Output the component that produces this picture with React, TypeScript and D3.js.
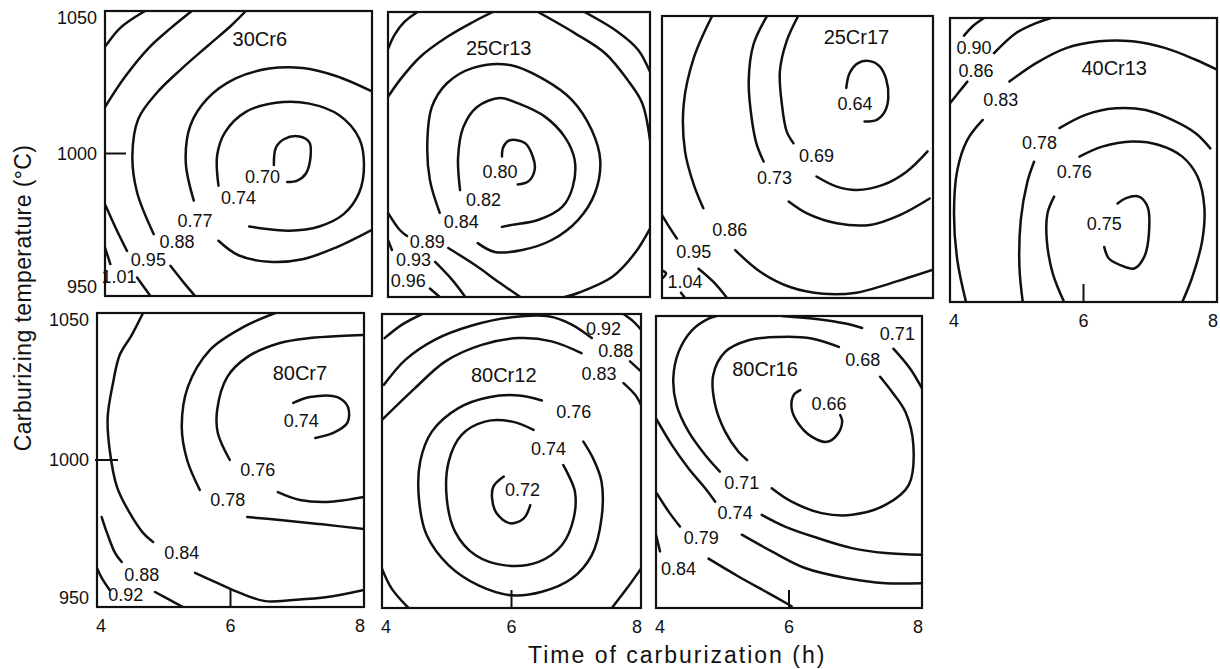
import React from 'react';
import * as d3 from 'd3';

type Pt = [number, number];
type Lines = Pt[][];
type Tag = [string, number, number];

const timeTicks = [4, 6, 8];
const tempTicks = [950, 1000, 1050];
const steels = ['30Cr6', '25Cr13', '25Cr17', '40Cr13', '80Cr7', '80Cr12', '80Cr16'];

// contour pieces, [time h, temperature C]
const lines30Cr6: Lines = [
  [[6.53, 996], [6.56, 1002], [6.68, 1005], [6.91, 1006], [7.06, 1004], [7.08, 999], [7.01, 993], [6.88, 990.5], [6.73, 990]],
  [[5.7, 988.7], [5.68, 999.3], [5.8, 1007.5], [6.11, 1014.6], [6.56, 1017.8], [7.06, 1017.5], [7.51, 1013.4], [7.81, 1005.2], [7.88, 995.8], [7.81, 986.4], [7.58, 978.8], [7.21, 974.4], [6.76, 972.9], [6.36, 973.7], [6.16, 974.4]],
  [[5.33, 983.5], [5.21, 996.9], [5.28, 1009.9], [5.53, 1019.2], [5.95, 1026.3], [6.46, 1029.8], [6.96, 1030], [7.46, 1027.2], [8, 1021.8]],
  [[5.7, 969.4], [6, 964.3], [6.46, 962], [6.96, 962.9], [7.46, 967], [8, 973.2]],
  [[4.73, 971.7], [4.48, 986.4], [4.41, 999.3], [4.5, 1012.2], [4.78, 1021.4], [5.15, 1029.8], [5.55, 1038], [5.9, 1045.1], [6.11, 1050]],
  [[4, 1016.3], [4.3, 1026.9], [4.65, 1036.9], [4.98, 1043.9], [5.3, 1050]],
  [[4.01, 981.7], [4.18, 972.9], [4.33, 965.8]],
  [[4.98, 960.6], [5.18, 954.7], [5.35, 950]],
  [[4, 1037.4], [4.23, 1044.1], [4.6, 1050]],
  [[4, 967], [4.08, 961.2]],
  [[4.48, 956.5], [4.68, 950]],
];
const labels30Cr6: Tag[] = [
  ['0.70', 6.36, 991.7], ['0.74', 6.0, 984.3], ['0.77', 5.35, 976.4],
  ['0.88', 5.08, 968.8], ['0.95', 4.65, 962.7], ['1.01', 4.21, 956.8],
];

const lines25Cr13: Lines = [
  [[5.74, 999.3], [5.76, 1002.6], [5.86, 1005], [6.09, 1004], [6.21, 999.3], [6.24, 994.7], [6.14, 990.5], [5.98, 989.5]],
  [[5.1, 987.5], [5.07, 999], [5.15, 1009.6], [5.36, 1016.7], [5.71, 1019.8], [5.98, 1018], [6.4, 1013.2], [6.7, 1006.1], [6.85, 998.1], [6.82, 988.6], [6.66, 981.6], [6.29, 977], [5.89, 975.3], [5.74, 974.6]],
  [[4.79, 979.5], [4.64, 991], [4.6, 1004], [4.67, 1016.7], [4.9, 1025], [5.3, 1030.4], [5.86, 1031.4], [6.4, 1026.1], [6.81, 1019.1], [7.11, 1008.6], [7.24, 998.1], [7.16, 986.5], [6.9, 977], [6.5, 970], [6.05, 966.5], [5.63, 965.8], [5.37, 968.9]],
  [[4, 1020.2], [4.18, 1026.1], [4.49, 1034.2], [4.9, 1041.2], [5.3, 1046.5], [5.6, 1050]],
  [[6.29, 1050], [6.85, 1042.6], [7.31, 1035.6], [7.66, 1026.1], [7.88, 1018.1], [8, 1005]],
  [[8, 974], [7.77, 965.4], [7.42, 957], [6.9, 951.4], [6.7, 950]],
  [[4, 979.5], [4.18, 973.5], [4.29, 971.4]],
  [[4.92, 967.2], [5.33, 961.2], [5.71, 954.9], [6.02, 950]],
  [[4, 1037], [4.1, 1042], [4.25, 1046.5], [4.45, 1050]],
  [[7, 1050], [7.51, 1043], [7.82, 1036.7], [8, 1029]],
  [[4, 970], [4.06, 966.5]],
  [[4.72, 962.3], [4.98, 956], [5.18, 950]],
  [[4.64, 953], [4.79, 950]],
];
const labels25Cr13: Tag[] = [
  ['0.80', 5.71, 994], ['0.82', 5.46, 984.2], ['0.84', 5.12, 976.4],
  ['0.89', 4.6, 969.3], ['0.93', 4.39, 962.9], ['0.96', 4.31, 955.6],
];

const lines25Cr17: Lines = [
  [[6.72, 1024.5], [6.77, 1029.8], [6.9, 1033.4], [7.07, 1034], [7.21, 1032.2], [7.31, 1027.5], [7.34, 1020.9], [7.29, 1016.2], [7.17, 1013.2], [6.99, 1012.6]],
  [[6.01, 1050], [5.84, 1041.1], [5.74, 1030.4], [5.77, 1018.6], [5.84, 1009.1], [5.94, 1004.9]],
  [[6.28, 993.1], [6.58, 989.5], [6.87, 988.3], [7.26, 990.1], [7.61, 994.8], [7.92, 1002]],
  [[5.55, 1050], [5.35, 1039.9], [5.28, 1026.9], [5.33, 1012.6], [5.4, 1004.3], [5.5, 998.4]],
  [[5.87, 984.2], [6.14, 980], [6.58, 976.5], [7.07, 975.9], [7.51, 979.4], [7.95, 985.3]],
  [[4.74, 1050], [4.47, 1035.2], [4.32, 1018.6], [4.34, 1002], [4.47, 990.1], [4.61, 981.8]],
  [[5.08, 967], [5.45, 959.3], [5.89, 953.9], [6.38, 951.5], [6.87, 951.9], [7.36, 955.1], [8, 960]],
  [[4, 979.4], [4.12, 974.7], [4.22, 971.1]],
  [[4.54, 960.4], [4.76, 955.7], [4.96, 950]],
  [[4, 959.8], [4.06, 958.7], [4.01, 957.1]],
  [[4.28, 951.9], [4.34, 950]],
];
const labels25Cr17: Tag[] = [
  ['0.64', 6.85, 1018.8], ['0.69', 6.28, 1000.5], ['0.73', 5.66, 992.5],
  ['0.86', 5.0, 974.2], ['0.95', 4.47, 966.3], ['1.04', 4.34, 955.5],
];

const lines40Cr13: Lines = [
  [[4.21, 1043.8], [4.34, 1047.1], [4.51, 1050]],
  [[4, 1020], [4.14, 1024.1], [4.26, 1027.6]],
  [[4.66, 1037.6], [4.99, 1044.7], [5.29, 1048.2], [5.51, 1050]],
  [[4.24, 950], [4.11, 964.7], [4.06, 981.2], [4.11, 996.5], [4.26, 1007.1], [4.49, 1014.1]],
  [[4.89, 1027.6], [5.29, 1034.1], [5.74, 1039.4], [6.23, 1041.8], [6.73, 1041.8], [7.23, 1039.4], [7.68, 1035.3], [8, 1031.8]],
  [[5.09, 950], [5.04, 962.4], [5.06, 978.8], [5.16, 992.4], [5.26, 999.4]],
  [[5.64, 1011.2], [6.03, 1015.9], [6.48, 1018.2], [6.93, 1017.6], [7.33, 1014.1], [7.68, 1009.4], [7.9, 1004.1]],
  [[5.71, 950], [5.54, 960], [5.45, 971.8], [5.46, 981.2], [5.56, 987.1]],
  [[5.94, 1001.2], [6.28, 1004.7], [6.73, 1006.5], [7.13, 1005.3], [7.48, 1001.2], [7.71, 994.1], [7.81, 983.5], [7.78, 971.8], [7.63, 958.8], [7.48, 950]],
  [[6.51, 984.7], [6.63, 986.5], [6.83, 987.1], [6.96, 983.5], [6.98, 974.1], [6.91, 965.9], [6.76, 961.8], [6.56, 962.9], [6.38, 965.3], [6.31, 969.4]],
];
const labels40Cr13: Tag[] = [
  ['0.90', 4.36, 1039.4], ['0.86', 4.39, 1031.5], ['0.83', 4.76, 1021.2],
  ['0.78', 5.34, 1005.9], ['0.76', 5.86, 995.9], ['0.75', 6.31, 977.6],
];

const lines80Cr7: Lines = [
  [[6.94, 1019.4], [7.19, 1021.4], [7.6, 1021.4], [7.76, 1018], [7.75, 1012.6], [7.54, 1009.2], [7.27, 1007.5]],
  [[5.99, 1000], [5.81, 1009.2], [5.8, 1017], [5.95, 1028.2], [6.25, 1035], [6.74, 1039.8], [7.19, 1041.5], [7.64, 1042.2], [8, 1042.5]],
  [[6.71, 989.1], [7.04, 986.4], [7.45, 985.7], [8, 987.4]],
  [[5.54, 989.8], [5.35, 1000], [5.27, 1011.2], [5.36, 1024.8], [5.69, 1037.4], [6.19, 1045.2], [6.67, 1050]],
  [[6.25, 980.6], [6.74, 979.6], [7.34, 978.2], [8, 976.5]],
  [[4.69, 1050], [4.52, 1042.5], [4.34, 1035.7], [4.24, 1026.2], [4.16, 1014.6], [4.19, 1003.4], [4.3, 990.8], [4.49, 982], [4.69, 975.2], [4.84, 972.1]],
  [[5.47, 961.6], [5.8, 958.2], [6.14, 954.8], [6.52, 952], [6.94, 952.4], [7.45, 953.4], [8, 955.8]],
  [[4.07, 980.6], [4.15, 975.2], [4.27, 968.4], [4.37, 965.3]],
  [[4.87, 955.1], [5.09, 952.4], [5.29, 950]],
  [[4, 963.3], [4.07, 959.9], [4.19, 955.8]],
];
const labels80Cr7: Tag[] = [
  ['0.74', 7.06, 1013.3], ['0.76', 6.41, 996.6], ['0.78', 5.96, 986.4],
  ['0.84', 5.27, 968.4], ['0.88', 4.67, 960.9], ['0.92', 4.43, 954.1],
];

const lines80Cr12: Lines = [
  [[5.88, 994.7], [5.72, 991.3], [5.7, 987.3], [5.77, 982.2], [5.98, 978.8], [6.19, 980.5], [6.29, 985]],
  [[6.34, 1010.6], [6.01, 1013.4], [5.59, 1013.4], [5.23, 1008.9], [5.03, 999.8], [5, 987.3], [5.13, 975.9], [5.44, 968], [5.9, 964.5], [6.42, 965.7], [6.78, 971.4], [6.96, 980.5], [6.98, 989.5], [6.88, 995.2], [6.8, 998.6]],
  [[6.47, 1020.6], [6.11, 1022.3], [5.65, 1021.7], [5.18, 1018], [4.77, 1010], [4.59, 999.8], [4.57, 987.3], [4.69, 974.8], [5.03, 964.5], [5.49, 957.7], [6.01, 954.3], [6.47, 955.5], [6.93, 960], [7.24, 968], [7.39, 980.5], [7.39, 993], [7.26, 1000.9], [7.11, 1006.6]],
  [[4, 1014], [4.51, 1024.8], [4.98, 1033.9], [5.54, 1039.5], [6.11, 1041.8], [6.62, 1040.7], [7.08, 1036.7]],
  [[7.73, 1026.5], [7.91, 1022.5], [8, 1019.1]],
  [[4, 963.4], [4.15, 956.6], [4.41, 950]],
  [[7.55, 950], [7.78, 956.6], [8, 963.4]],
  [[4.03, 1025.9], [4.36, 1034.4], [4.82, 1041.3], [5.39, 1046.1], [6.01, 1048.9], [6.57, 1049.2], [6.93, 1046.4], [7.24, 1041.8]],
  [[7.83, 1033.9], [8, 1030.5]],
  [[4.04, 1041.8], [4.31, 1046.4], [4.62, 1050]],
  [[7.73, 1050], [7.88, 1047.5], [8, 1044.7]],
];
const labels80Cr12: Tag[] = [
  ['0.72', 6.17, 990.1], ['0.74', 6.57, 1004.1], ['0.76', 6.96, 1016.6],
  ['0.83', 7.35, 1029.5], ['0.88', 7.61, 1037.5], ['0.92', 7.42, 1045],
];

const lines80Cr16: Lines = [
  [[6.17, 1024.6], [6.07, 1022.9], [6.04, 1018.3], [6.14, 1013.2], [6.34, 1008.7], [6.57, 1006.9], [6.72, 1009.2], [6.8, 1013.8], [6.77, 1016.1]],
  [[6.75, 1039.4], [6.34, 1042.3], [5.84, 1042.8], [5.39, 1041.7], [5.04, 1037.7], [4.86, 1029.7], [4.89, 1019.5], [5.04, 1010.4], [5.24, 1003.5], [5.37, 1000.7]],
  [[5.74, 991], [6.04, 986.4], [6.49, 982.5], [6.95, 981.9], [7.45, 985.3], [7.8, 992.1], [7.87, 1005.8], [7.75, 1017.2], [7.55, 1024], [7.37, 1029.2]],
  [[4.96, 996.7], [4.74, 1002.4], [4.49, 1010.4], [4.31, 1019.5], [4.26, 1028.6], [4.34, 1037.7], [4.54, 1045.1], [4.79, 1049.1], [4.91, 1050]],
  [[5.89, 1050], [6.44, 1048.9], [6.85, 1047.4], [7.1, 1045.9]],
  [[7.57, 1038.8], [7.82, 1032], [8, 1025.2]],
  [[4, 1014.9], [4.24, 1005.8], [4.49, 997.8], [4.74, 991], [4.89, 986.4]],
  [[5.59, 981.9], [5.94, 977.9], [6.44, 973.9], [6.95, 970.5], [7.45, 968.8], [8, 968.2]],
  [[4.01, 989.3], [4.19, 983], [4.36, 977.9]],
  [[5.29, 975.1], [5.74, 969.4], [6.24, 963.7], [6.85, 960.3], [7.45, 958.5], [8, 958.5]],
  [[4, 975.1], [4.06, 969.4]],
  [[4.79, 966.9], [5.24, 960.8], [5.69, 955.1], [6.04, 950.6]],
];
const labels80Cr16: Tag[] = [
  ['0.66', 6.6, 1020], ['0.68', 7.11, 1034.9], ['0.71', 7.63, 1043.7], ['0.71', 5.29, 992.7],
  ['0.74', 5.19, 982.7], ['0.79', 4.68, 974.1], ['0.84', 4.34, 963.4],
];

const nameAt: Pt[] = [
  [6.32, 1040.1], [5.69, 1037.4], [6.87, 1042.5], [6.46, 1032.4],
  [7.04, 1029.6], [5.88, 1029.3], [5.64, 1032],
];

const FONT = "'Liberation Sans', Arial, Helvetica, sans-serif";
const INK = '#111';

export default function App() {
  const W = 1220;
  const H = 669;

  // panel frames in pixels: left, right, top, bottom
  const frames = [
    [105, 372, 11, 296], [388, 650, 12, 297], [662, 933, 16, 298], [950, 1217, 18, 302],
    [97, 364, 313, 607], [382, 641, 314, 608], [656, 922, 316, 608],
  ];
  const data = [
    { lines: lines30Cr6, labels: labels30Cr6 },
    { lines: lines25Cr13, labels: labels25Cr13 },
    { lines: lines25Cr17, labels: labels25Cr17 },
    { lines: lines40Cr13, labels: labels40Cr13 },
    { lines: lines80Cr7, labels: labels80Cr7 },
    { lines: lines80Cr12, labels: labels80Cr12 },
    { lines: lines80Cr16, labels: labels80Cr16 },
  ];
  const yAxisPanels = [0, 4];
  const xAxisPanels = [3, 4, 5, 6];

  return (
    <svg width={W} height={H} style={{ display: 'block', position: 'absolute', left: 0, top: 0, background: '#fff' }}>
      <defs>
        {frames.map((f, i) => (
          <clipPath id={`clip${i}`} key={i}>
            <rect x={f[0]} y={f[2]} width={f[1] - f[0]} height={f[3] - f[2]} />
          </clipPath>
        ))}
      </defs>
      {frames.map((f, i) => {
        const [l, r, t, b] = f;
        const x = d3.scaleLinear().domain([4, 8]).range([l, r]);
        const y = d3.scaleLinear().domain([950, 1050]).range([b, t]);
        const line = d3.line<Pt>().x(d => x(d[0])).y(d => y(d[1])).curve(d3.curveCatmullRom.alpha(0.5));
        const p = data[i];
        return (
          <g key={i}>
            <g clipPath={`url(#clip${i})`}>
              {p.lines.map((pts, k) => (
                <path key={k} d={line(pts) || ''} fill="none" stroke={INK} strokeWidth={2.5} strokeLinecap="round" />
              ))}
            </g>
            <rect x={l} y={t} width={r - l} height={b - t} fill="none" stroke={INK} strokeWidth={2.2} />
            {p.labels.map((lb, k) => (
              <text key={k} x={x(lb[1])} y={y(lb[2])} textAnchor="middle" dominantBaseline="central"
                fontFamily={FONT} fontSize={18} fill={INK}>{lb[0]}</text>
            ))}
            <text x={x(nameAt[i][0])} y={y(nameAt[i][1])} textAnchor="middle" dominantBaseline="central"
              fontFamily={FONT} fontSize={20} fill={INK}>{steels[i]}</text>
            {yAxisPanels.includes(i) && (
              <g>
                <line x1={i === 4 ? l - 2 : l} x2={l + 21} y1={y(1000)} y2={y(1000)} stroke={INK} strokeWidth={2} />
                {tempTicks.map(v => (
                  <text key={v} x={l - 8} y={v === 1050 ? y(v) + 7 : v === 950 ? y(v) - 9 : y(v)}
                    textAnchor="end" dominantBaseline="central" fontFamily={FONT} fontSize={18} fill={INK}>{v}</text>
                ))}
              </g>
            )}
            {xAxisPanels.includes(i) && (
              <g>
                <line x1={x(6)} x2={x(6)} y1={b} y2={b - 18} stroke={INK} strokeWidth={2} />
                {timeTicks.map(v => (
                  <text key={v} x={x(v) + (v === 4 ? 4 : v === 8 ? -4 : 0)} y={b + 25}
                    textAnchor="middle" fontFamily={FONT} fontSize={18} fill={INK}>{v}</text>
                ))}
              </g>
            )}
          </g>
        );
      })}
      <text transform="translate(23,298) rotate(-90)" textAnchor="middle" dominantBaseline="central"
        fontFamily={FONT} fontSize={23} letterSpacing={0.4} fill={INK}>Carburizing temperature (°C)</text>
      <text x={528} y={663} textAnchor="start" fontFamily={FONT} fontSize={23} letterSpacing={2} fill={INK}>Time of carburization (h)</text>
    </svg>
  );
}
